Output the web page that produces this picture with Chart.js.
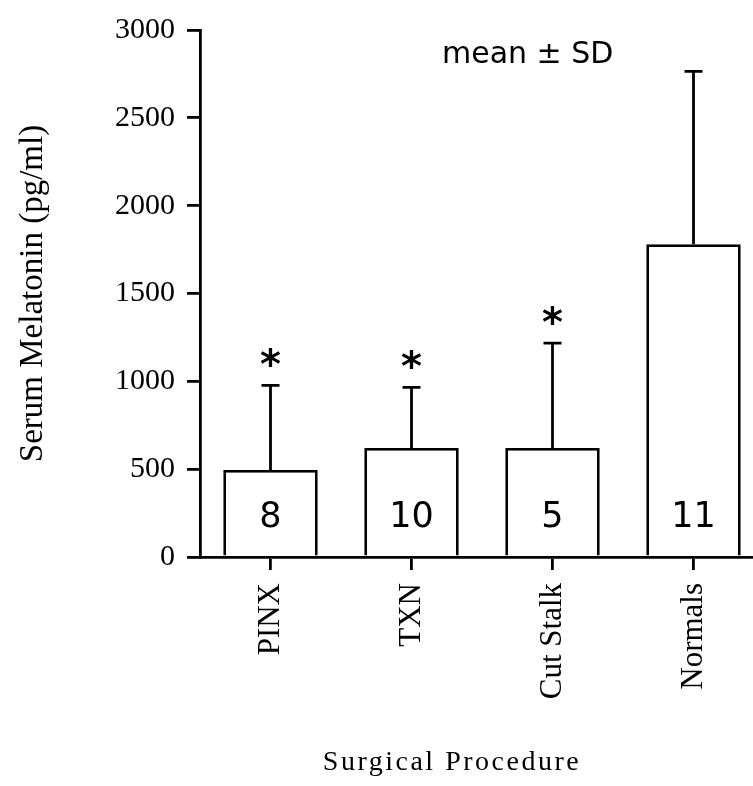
<!DOCTYPE html>
<html>
<head>
<meta charset="utf-8">
<script src="https://cdn.jsdelivr.net/npm/chart.js@4/dist/chart.umd.min.js"></script>
<style>
  html, body { margin: 0; padding: 0; background: #fff; overflow: hidden; }
</style>
</head>
<body>
<!-- холст чуть шире окна: ось X в оригинале обрезана справа -->
<canvas id="melatoninChart" width="775" height="786"></canvas>
<script>
// данные
const categories = ['PINX', 'TXN', 'Cut Stalk', 'Normals'];
const meanValues = [495, 621, 621, 1780];
const sdValues = [482, 345, 596, 985];
const sampleSizes = [8, 10, 5, 11];
const significant = [true, true, true, false];
const yTickValues = [0, 500, 1000, 1500, 2000, 2500, 3000];

const serif = "'Liberation Serif', 'Times New Roman', serif";
const sans = "'DejaVu Sans', sans-serif";

Chart.defaults.color = '#000';

// усы SD, звёздочки, n в столбцах и подписи
const annotations = {
  id: 'annotations',
  afterDatasetsDraw(chart) {
    const ctx = chart.ctx;
    const yScale = chart.scales.y;
    const area = chart.chartArea;
    const meta = chart.getDatasetMeta(0);

    ctx.save();
    ctx.strokeStyle = '#000';
    ctx.fillStyle = '#000';
    ctx.lineWidth = 2.8;

    meta.data.forEach((bar, i) => {
      const top = yScale.getPixelForValue(meanValues[i] + sdValues[i]);
      ctx.beginPath();
      ctx.moveTo(bar.x, bar.y);
      ctx.lineTo(bar.x, top);
      ctx.moveTo(bar.x - 9, top);
      ctx.lineTo(bar.x + 9, top);
      ctx.stroke();

      if (significant[i]) {
        ctx.font = 'bold 40px ' + sans;
        ctx.textAlign = 'center';
        ctx.textBaseline = 'alphabetic';
        const m = ctx.measureText('*');
        const cy = top - 28;
        ctx.fillText('*', bar.x, cy + (m.actualBoundingBoxAscent - m.actualBoundingBoxDescent) / 2);
      }

      ctx.font = '35px ' + sans;
      ctx.textAlign = 'center';
      ctx.textBaseline = 'middle';
      ctx.fillText(String(sampleSizes[i]), bar.x, yScale.getPixelForValue(225));
    });

    ctx.font = '30px ' + sans;
    ctx.textAlign = 'left';
    ctx.textBaseline = 'alphabetic';
    ctx.fillText('mean \u00B1 SD', area.left + 242, 63);

    ctx.font = '28px ' + serif;
    ctx.textAlign = 'center';
    ctx.letterSpacing = '2.5px';
    ctx.fillText('Surgical Procedure', area.left + 252, 770);
    ctx.restore();
  }
};

new Chart(document.getElementById('melatoninChart'), {
  type: 'bar',
  data: {
    labels: categories,
    datasets: [{
      data: meanValues,
      backgroundColor: '#fff',
      borderColor: '#000',
      borderWidth: 2.8,
      barPercentage: 0.67,
      categoryPercentage: 1
    }]
  },
  options: {
    responsive: false,
    animation: false,
    layout: { padding: { top: 24, left: 0, right: 11, bottom: 0 } },
    plugins: {
      legend: { display: false },
      tooltip: { enabled: false }
    },
    scales: {
      x: {
        afterFit: (scale) => { scale.height = 229; },
        border: { display: true, color: '#000', width: 2.8 },
        grid: {
          offset: false,
          drawOnChartArea: false,
          drawTicks: true,
          tickLength: 13,
          color: '#000',
          lineWidth: 2.8
        },
        ticks: {
          autoSkip: false,
          maxRotation: 90,
          minRotation: 90,
          padding: 13,
          font: { family: serif, size: 31 }
        }
      },
      y: {
        min: 0,
        max: 3000,
        afterFit: (scale) => { scale.width = 200; },
        afterBuildTicks: (scale) => { scale.ticks = yTickValues.map(v => ({ value: v })); },
        border: { display: true, color: '#000', width: 2.8 },
        grid: {
          drawOnChartArea: false,
          drawTicks: true,
          tickLength: 13,
          color: '#000',
          lineWidth: 2.8
        },
        ticks: {
          padding: 12,
          callback: (v) => String(v),
          font: { family: serif, size: 30 }
        },
        title: {
          display: true,
          text: 'Serum Melatonin (pg/ml)',
          padding: { top: 14, bottom: 0 },
          font: { family: serif, size: 33 }
        }
      }
    }
  },
  plugins: [annotations]
});
</script>
</body>
</html>
